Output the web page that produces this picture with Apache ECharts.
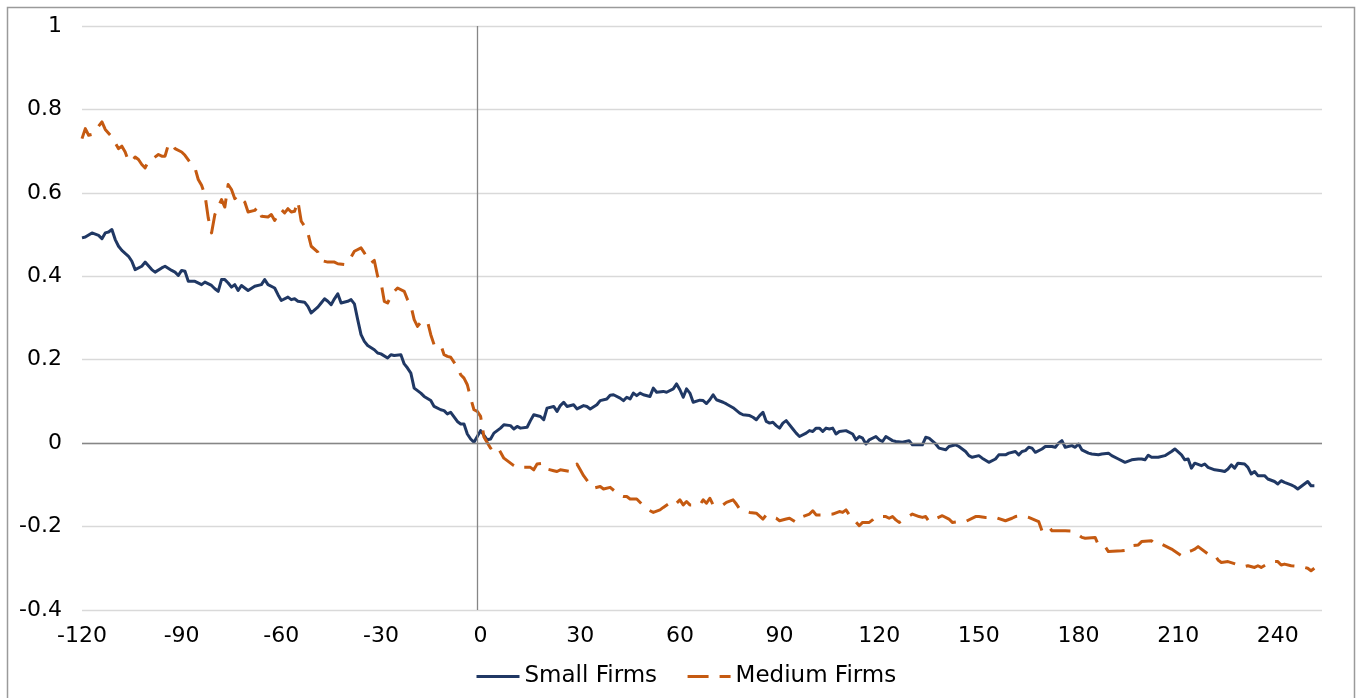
<!DOCTYPE html>
<html>
<head>
<meta charset="utf-8">
<script src="https://cdn.jsdelivr.net/npm/echarts@6/dist/echarts.min.js"></script>
<style>
  html, body { margin: 0; padding: 0; background: #fff; }
  #chart { width: 1364px; height: 698px; }
</style>
</head>
<body>
<div id="chart"></div>
<script>
  // event days relative to day 0 and the two cumulative series
  const seriesNames = ['Small Firms', 'Medium Firms'];
  const xTickLabels = [-120, -90, -60, -30, 0, 30, 60, 90, 120, 150, 180, 210, 240];

  const smallDays = [
    -120, -119, -117, -115, -114, -113, -112, -111, -110, -109,
    -108, -106, -105, -104, -102, -101, -99, -98, -96, -95,
    -93, -92, -91, -90, -89, -88, -86, -84, -83, -81,
    -80, -79, -78, -77, -76, -75, -74, -73, -72, -71,
    -70, -68, -66, -65, -64, -62, -61, -60, -58, -57,
    -56, -55, -53, -52, -51, -49, -48, -47, -46, -45,
    -44, -43, -42, -40, -39, -38, -37, -36, -35, -34,
    -32, -31, -30, -28, -27, -26, -24, -23, -22, -21,
    -20, -18, -17, -15, -14, -12, -11, -10, -9, -7,
    -6, -5, -4, -3, -2, -1, 0, 2, 3, 4,
    6, 7, 9, 10, 11, 12, 14, 15, 16, 18,
    19, 20, 22, 23, 24, 25, 26, 28, 29, 31,
    32, 33, 35, 36, 38, 39, 40, 42, 43, 44,
    45, 46, 47, 48, 49, 51, 52, 53, 55, 56,
    58, 59, 60, 61, 62, 63, 64, 66, 67, 68,
    69, 70, 71, 73, 74, 76, 78, 79, 81, 82,
    83, 84, 85, 86, 87, 88, 89, 90, 91, 92,
    94, 95, 96, 98, 99, 100, 101, 102, 103, 104,
    105, 106, 107, 108, 110, 112, 113, 114, 115, 116,
    117, 119, 120, 121, 122, 124, 125, 127, 129, 130,
    132, 133, 134, 135, 137, 138, 140, 141, 143, 144,
    146, 147, 148, 150, 151, 153, 155, 156, 158, 159,
    161, 162, 163, 164, 165, 166, 167, 169, 170, 172,
    173, 174, 175, 176, 178, 179, 180, 181, 183, 184,
    186, 187, 189, 190, 192, 194, 196, 198, 199, 200,
    201, 202, 204, 206, 208, 209, 211, 212, 213, 214,
    215, 217, 218, 219, 221, 223, 224, 225, 226, 227,
    228, 230, 231, 232, 233, 234, 236, 237, 239, 240,
    241, 242, 244, 245, 246, 248, 249, 250, 251
  ];
  const smallValues = [
    0.492, 0.494, 0.504, 0.498, 0.490, 0.504, 0.506, 0.512, 0.488, 0.472,
    0.462, 0.448, 0.436, 0.416, 0.424, 0.434, 0.416, 0.410, 0.420, 0.424,
    0.414, 0.410, 0.402, 0.414, 0.412, 0.388, 0.388, 0.380, 0.386, 0.378,
    0.370, 0.364, 0.392, 0.392, 0.384, 0.374, 0.380, 0.366, 0.378, 0.372,
    0.366, 0.376, 0.380, 0.392, 0.380, 0.372, 0.356, 0.342, 0.350, 0.344,
    0.346, 0.340, 0.338, 0.328, 0.312, 0.326, 0.336, 0.346, 0.340, 0.332,
    0.346, 0.358, 0.336, 0.340, 0.344, 0.334, 0.296, 0.260, 0.244, 0.234,
    0.224, 0.216, 0.214, 0.204, 0.212, 0.210, 0.212, 0.190, 0.180, 0.168,
    0.132, 0.120, 0.112, 0.102, 0.088, 0.080, 0.078, 0.070, 0.074, 0.052,
    0.046, 0.046, 0.022, 0.010, 0.002, 0.016, 0.030, 0.008, 0.010, 0.024,
    0.036, 0.044, 0.042, 0.034, 0.040, 0.036, 0.038, 0.054, 0.068, 0.064,
    0.056, 0.084, 0.088, 0.076, 0.090, 0.098, 0.088, 0.092, 0.082, 0.090,
    0.088, 0.082, 0.092, 0.102, 0.106, 0.115, 0.116, 0.108, 0.102, 0.110,
    0.106, 0.120, 0.114, 0.120, 0.116, 0.112, 0.132, 0.122, 0.124, 0.122,
    0.130, 0.142, 0.128, 0.110, 0.130, 0.120, 0.098, 0.103, 0.102, 0.095,
    0.104, 0.116, 0.104, 0.098, 0.094, 0.085, 0.072, 0.068, 0.066, 0.062,
    0.056, 0.066, 0.074, 0.052, 0.048, 0.050, 0.042, 0.036, 0.048, 0.054,
    0.034, 0.024, 0.016, 0.024, 0.030, 0.028, 0.036, 0.036, 0.028, 0.036,
    0.034, 0.036, 0.022, 0.028, 0.030, 0.022, 0.008, 0.016, 0.012, -0.002,
    0.008, 0.016, 0.008, 0.004, 0.016, 0.006, 0.004, 0.002, 0.006, -0.004,
    -0.004, -0.004, 0.014, 0.012, -0.002, -0.012, -0.016, -0.008, -0.004, -0.008,
    -0.020, -0.030, -0.034, -0.030, -0.036, -0.046, -0.038, -0.028, -0.028, -0.024,
    -0.020, -0.028, -0.020, -0.018, -0.010, -0.012, -0.022, -0.014, -0.008, -0.008,
    -0.010, 0.000, 0.006, -0.010, -0.006, -0.010, -0.002, -0.016, -0.024, -0.026,
    -0.028, -0.026, -0.024, -0.030, -0.038, -0.046, -0.040, -0.038, -0.038, -0.040,
    -0.029, -0.034, -0.034, -0.030, -0.020, -0.014, -0.028, -0.040, -0.038, -0.060,
    -0.048, -0.054, -0.050, -0.058, -0.064, -0.066, -0.068, -0.062, -0.052, -0.060,
    -0.048, -0.050, -0.058, -0.074, -0.068, -0.078, -0.078, -0.086, -0.092, -0.098,
    -0.090, -0.094, -0.100, -0.104, -0.110, -0.098, -0.092, -0.102, -0.102
  ];

  const mediumDays = [
    -120, -119, -118, -117, -115, -114, -113, -111, -109, -108,
    -107, -106, -105, -104, -103, -102, -101, -100, -99, -97,
    -96, -95, -94, -93, -92, -90, -89, -87, -86, -85,
    -84, -83, -82, -81, -80, -78, -77, -76, -75, -74,
    -73, -71, -70, -68, -67, -66, -64, -63, -62, -60,
    -59, -58, -57, -56, -55, -54, -53, -52, -51, -49,
    -48, -46, -44, -43, -41, -39, -38, -36, -35, -33,
    -32, -31, -30, -29, -28, -27, -26, -25, -23, -22,
    -21, -20, -19, -18, -16, -15, -14, -12, -11, -10,
    -9, -7, -6, -5, -4, -3, -2, -1, 0, 1,
    3, 4, 5, 6, 7, 10, 11, 12, 13, 15,
    16, 17, 19, 20, 22, 23, 24, 27, 28, 29,
    30, 31, 33, 34, 36, 37, 39, 42, 43, 44,
    45, 46, 47, 50, 51, 52, 54, 55, 58, 59,
    60, 61, 62, 63, 66, 67, 68, 69, 70, 73,
    74, 76, 77, 78, 81, 83, 85, 86, 89, 90,
    92, 93, 95, 97, 99, 100, 101, 103, 106, 108,
    109, 110, 111, 114, 115, 117, 118, 119, 122, 123,
    124, 125, 126, 130, 132, 133, 134, 135, 139, 141,
    142, 144, 146, 149, 150, 152, 155, 158, 160, 161,
    163, 165, 168, 169, 171, 172, 176, 178, 180, 181,
    182, 185, 186, 188, 189, 193, 195, 196, 198, 199,
    202, 203, 205, 208, 211, 212, 214, 215, 216, 219,
    221, 222, 223, 225, 229, 230, 231, 233, 234, 235,
    238, 240, 241, 242, 244, 247, 249, 250, 251
  ];
  const mediumValues = [
    0.730, 0.754, 0.738, 0.740, 0.760, 0.770, 0.752, 0.734, 0.706, 0.712,
    0.698, 0.676, 0.676, 0.686, 0.680, 0.668, 0.660, 0.676, 0.680, 0.692,
    0.688, 0.688, 0.716, 0.718, 0.706, 0.698, 0.690, 0.668, 0.660, 0.632,
    0.618, 0.596, 0.540, 0.504, 0.548, 0.584, 0.566, 0.620, 0.608, 0.586,
    0.594, 0.578, 0.554, 0.558, 0.566, 0.544, 0.542, 0.548, 0.534, 0.560,
    0.552, 0.562, 0.554, 0.556, 0.580, 0.532, 0.520, 0.504, 0.472, 0.458,
    0.438, 0.434, 0.434, 0.430, 0.428, 0.446, 0.460, 0.468, 0.456, 0.432,
    0.438, 0.400, 0.386, 0.340, 0.336, 0.352, 0.364, 0.372, 0.364, 0.344,
    0.330, 0.296, 0.280, 0.290, 0.292, 0.260, 0.236, 0.236, 0.212, 0.208,
    0.206, 0.182, 0.164, 0.156, 0.140, 0.108, 0.080, 0.076, 0.064, 0.015,
    -0.012, -0.006, -0.008, -0.022, -0.036, -0.054, -0.058, -0.056, -0.058, -0.058,
    -0.064, -0.050, -0.048, -0.062, -0.066, -0.068, -0.064, -0.068, -0.056, -0.050,
    -0.064, -0.078, -0.100, -0.108, -0.104, -0.110, -0.106, -0.126, -0.128, -0.128,
    -0.134, -0.134, -0.134, -0.158, -0.162, -0.166, -0.160, -0.154, -0.138, -0.144,
    -0.136, -0.148, -0.140, -0.148, -0.148, -0.136, -0.144, -0.132, -0.148, -0.148,
    -0.142, -0.136, -0.146, -0.158, -0.166, -0.168, -0.182, -0.172, -0.180, -0.186,
    -0.182, -0.180, -0.190, -0.176, -0.170, -0.162, -0.172, -0.172, -0.170, -0.164,
    -0.166, -0.160, -0.172, -0.198, -0.190, -0.190, -0.184, -0.176, -0.176, -0.180,
    -0.176, -0.184, -0.190, -0.170, -0.176, -0.178, -0.176, -0.188, -0.174, -0.182,
    -0.190, -0.188, -0.188, -0.176, -0.176, -0.178, -0.178, -0.186, -0.180, -0.176,
    -0.174, -0.178, -0.188, -0.210, -0.200, -0.210, -0.210, -0.211, -0.220, -0.226,
    -0.228, -0.226, -0.244, -0.248, -0.260, -0.258, -0.256, -0.246, -0.244, -0.236,
    -0.234, -0.242, -0.242, -0.254, -0.270, -0.262, -0.258, -0.254, -0.248, -0.266,
    -0.268, -0.280, -0.286, -0.284, -0.294, -0.296, -0.294, -0.298, -0.294, -0.298,
    -0.284, -0.284, -0.292, -0.290, -0.294, -0.296, -0.300, -0.306, -0.300
  ];

  const font = 'DejaVu Sans';
  const pairs = (days, vals) => days.map((d, i) => [d, vals[i]]);

  const chart = echarts.init(document.getElementById('chart'));
  chart.setOption({
    animation: false,
    textStyle: { fontFamily: font },
    graphic: [{
      type: 'rect',
      silent: true,
      shape: { x: 7.5, y: 7.5, width: 1347, height: 720 },
      style: { fill: 'none', stroke: '#9a9a9a', lineWidth: 1.5 }
    }],
    grid: { left: 82, right: 42, top: 26, bottom: 88 },
    legend: {
      data: seriesNames,
      left: 470,
      top: 660,
      itemWidth: 43,
      itemHeight: 14,
      itemGap: 29,
      itemStyle: { opacity: 0 },
      lineStyle: { width: 3 },
      textStyle: { fontSize: 23, color: '#000', fontFamily: font }
    },
    xAxis: {
      type: 'value',
      min: -120,
      max: 253.3,
      axisLine: { show: false },
      axisTick: { show: false },
      splitLine: { show: false },
      axisLabel: { customValues: xTickLabels, fontSize: 22, color: '#000', margin: 15 }
    },
    yAxis: {
      type: 'value',
      min: -0.4,
      max: 1,
      interval: 0.2,
      axisLine: { show: false },
      axisTick: { show: false },
      splitLine: { lineStyle: { color: '#d9d9d9', width: 1.3 } },
      axisLabel: { fontSize: 22, color: '#000', margin: 20 }
    },
    series: [
      {
        name: seriesNames[0],
        type: 'line',
        symbol: 'none',
        color: '#203864',
        lineStyle: { width: 3, color: '#203864', join: 'round' },
        emphasis: { disabled: true },
        data: pairs(smallDays, smallValues),
        markLine: {
          silent: true,
          symbol: 'none',
          label: { show: false },
          lineStyle: { color: '#868686', width: 1.3, type: 'solid' },
          data: [{ yAxis: 0 }, { xAxis: -1 }]
        }
      },
      {
        name: seriesNames[1],
        type: 'line',
        symbol: 'none',
        color: '#c55a11',
        lineStyle: { width: 3, color: '#c55a11', type: [21, 11], join: 'round' },
        emphasis: { disabled: true },
        data: pairs(mediumDays, mediumValues)
      }
    ]
  });
</script>
</body>
</html>
